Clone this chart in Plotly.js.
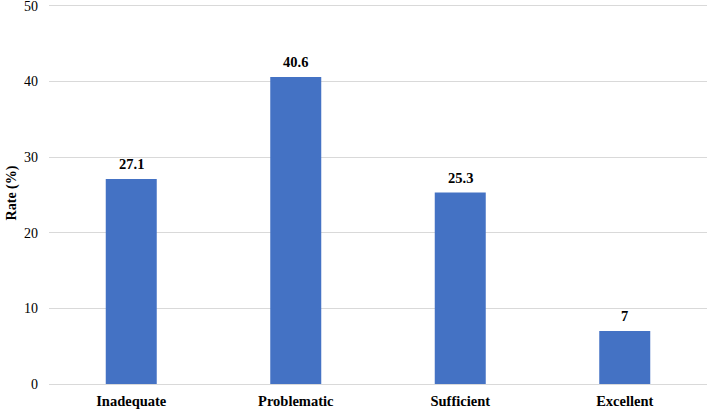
<!DOCTYPE html>
<html><head><meta charset="utf-8">
<script src="https://cdn.plot.ly/plotly-3.0.1.min.js"></script>
<style>html,body{margin:0;padding:0;background:#fff;}#chart{width:708px;height:411px;}</style>
</head><body><div id="chart"></div>
<script>
const categories = ["Inadequate", "Problematic", "Sufficient", "Excellent"];
const rates = [27.1, 40.6, 25.3, 7];
const rateLabels = ["27.1", "40.6", "25.3", "7"];

const font = "Liberation Serif, Times New Roman, serif";
const annotations = categories.map((c, i) => ({
  x: c, y: rates[i], xref: "x", yref: "y",
  text: rateLabels[i], showarrow: false,
  yanchor: "bottom", yshift: 6, borderpad: 0,
  font: {family: font, size: 14.5, color: "#000", weight: "bold"}
}));
Plotly.newPlot("chart", [{
  type: "bar",
  x: categories,
  y: rates,
  marker: {color: "#4472C4"},
  width: 0.31,
  hoverinfo: "none"
}], {
  width: 708, height: 411,
  margin: {l: 49, r: 1, t: 2, b: 27},
  paper_bgcolor: "#fff", plot_bgcolor: "#fff",
  showlegend: false,
  font: {family: font, size: 14, color: "#000"},
  annotations: annotations,
  xaxis: {
    tickfont: {family: font, size: 14.5, color: "#000", weight: "bold"},
    showgrid: false, showline: false, ticks: "",
    ticklabelstandoff: 6
  },
  yaxis: {
    range: [0, 50.5], tickvals: [0, 10, 20, 30, 40, 50],
    gridcolor: "#d9d9d9", gridwidth: 1,
    zeroline: true, zerolinecolor: "#d9d9d9", zerolinewidth: 1,
    showline: false, ticks: "", ticklen: 0,
    ticklabelstandoff: 10,
    ticklabeloverflow: "allow",
    tickfont: {family: font, size: 14, color: "#000"},
    title: {text: "Rate (%)", font: {family: font, size: 14, color: "#000", weight: "bold"}, standoff: 4}
  }
}, {displayModeBar: false, staticPlot: true});
</script></body></html>
